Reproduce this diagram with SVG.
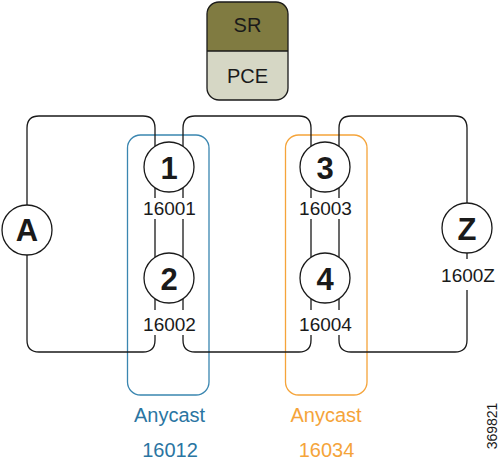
<svg xmlns="http://www.w3.org/2000/svg" width="500" height="463" viewBox="0 0 500 463">
<style>
.ln{fill:none;stroke:#1a1a1a;stroke-width:1.3}
.nd{fill:#fff;stroke:#1a1a1a;stroke-width:1.3}
.nt{font-family:"Liberation Sans",Arial,sans-serif;font-weight:bold;font-size:31px;fill:#1a1a1a;text-anchor:middle}
.lb{font-family:"Liberation Sans",Arial,sans-serif;font-size:19px;fill:#1a1a1a;text-anchor:middle}
.big{font-size:20px}
.small{font-size:14px}
.blue{fill:#2a75a2}
.orange{fill:#f5a43a}
</style>
<rect width="500" height="463" fill="#fff"/>
<g id="sr-pce">
<path d="M207 51 V14 Q207 2 219 2 H276 Q288 2 288 14 V51 Z" fill="#807b41"/>
<path d="M207 51 V88 Q207 100 219 100 H276 Q288 100 288 88 V51 Z" fill="#d6d7c5"/>
<rect x="207" y="2" width="81" height="98" rx="12" fill="none" stroke="#1a1a1a" stroke-width="1.3"/>
<line x1="207" y1="51" x2="288" y2="51" stroke="#1a1a1a" stroke-width="1.3"/>
<text class="lb big" x="247.5" y="32">SR</text>
<text class="lb big" x="247.5" y="83">PCE</text>
</g>
<g id="anycast-12">
<rect x="127.5" y="135" width="81.5" height="260" rx="13" fill="none" stroke="#3a86b0" stroke-width="1.3"/>
<text class="lb big blue" x="169.5" y="422">Anycast</text>
<text class="lb big blue" x="170" y="457">16012</text>
</g>
<g id="anycast-34">
<rect x="285.5" y="135" width="81.5" height="260" rx="13" fill="none" stroke="#f5a43a" stroke-width="1.3"/>
<text class="lb big orange" x="326" y="422">Anycast</text>
<text class="lb big orange" x="326.5" y="457">16034</text>
</g>
<g id="connectors">
<path class="ln" d="M27 205 V128 Q27 116 39 116 H143 Q155 116 155 128 V147"/>
<path class="ln" d="M183 147 V128 Q183 116 195 116 H299 Q311 116 311 128 V147"/>
<path class="ln" d="M339 147 V128 Q339 116 351 116 H455 Q467 116 467 128 V203"/>
<path class="ln" d="M27 255 V340 Q27 352 39 352 H143 Q155 352 155 340 V335"/>
<path class="ln" d="M183 335 V340 Q183 352 195 352 H299 Q311 352 311 340 V335"/>
<path class="ln" d="M339 335 V340 Q339 352 351 352 H455 Q467 352 467 340 V290"/>
<path class="ln" d="M467 253 V259"/>
<path class="ln" d="M155 188 V198 M155 219 V258 M183 188 V198 M183 219 V258"/>
<path class="ln" d="M311 188 V198 M311 219 V258 M339 188 V198 M339 219 V258"/>
<path class="ln" d="M155 299 V310 M183 299 V310 M311 299 V310 M339 299 V310"/>
</g>
<g id="node-A">
<circle class="nd" cx="27" cy="230" r="25"/>
<text class="nt" x="27" y="241">A</text>
</g>
<g id="node-1">
<circle class="nd" cx="169" cy="167" r="25"/>
<text class="nt" x="169" y="179">1</text>
<text class="lb" x="169.5" y="215">16001</text>
</g>
<g id="node-2">
<circle class="nd" cx="169" cy="278" r="25"/>
<text class="nt" x="169" y="290">2</text>
<text class="lb" x="169.5" y="331">16002</text>
</g>
<g id="node-3">
<circle class="nd" cx="325" cy="167" r="25"/>
<text class="nt" x="325" y="179">3</text>
<text class="lb" x="325.5" y="215">16003</text>
</g>
<g id="node-4">
<circle class="nd" cx="325" cy="278" r="25"/>
<text class="nt" x="325" y="290">4</text>
<text class="lb" x="325.5" y="331">16004</text>
</g>
<g id="node-Z">
<circle class="nd" cx="467" cy="228" r="25"/>
<text class="nt" x="467" y="240">Z</text>
<text class="lb" x="468" y="282">1600Z</text>
</g>
<text class="lb small" transform="translate(497 426) rotate(-90)" x="0" y="0">369821</text>
</svg>
